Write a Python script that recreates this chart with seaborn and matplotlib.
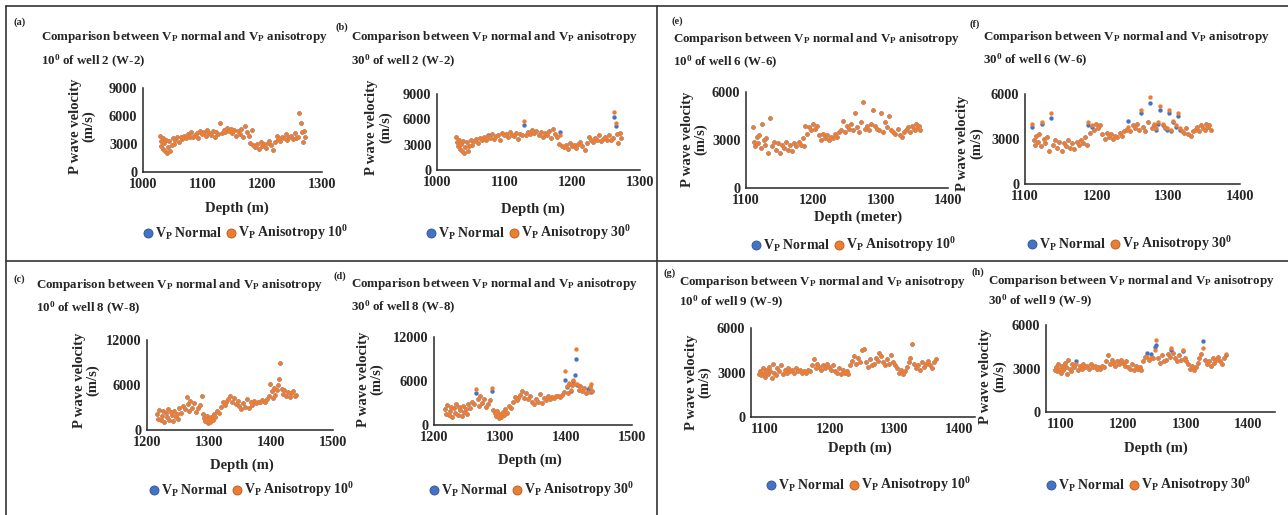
"""
Comparación de Vp normal y Vp anisotrópico (10° y 30°) para los pozos W-2, W-8, W-6 y W-9.
Se guarda la figura como out.png
"""

import matplotlib
matplotlib.use("Agg")
import matplotlib.pyplot as plt
from matplotlib.lines import Line2D
import seaborn as sns

BLUE = "#4472C4"
ORANGE = "#ED7D31"
W, H = 1288, 515

# ---------------- datos ----------------
# Pozo 2
depth_w2 = [1028, 1030, 1031, 1033, 1034, 1036, 1037, 1039, 1040, 1042,
            1044, 1046, 1048, 1050, 1052, 1054, 1057, 1060, 1063, 1066,
            1069, 1072, 1075, 1078, 1081, 1084, 1087, 1090, 1093, 1096,
            1099, 1102, 1105, 1108, 1111, 1114, 1117, 1120, 1123, 1126,
            1129, 1132, 1135, 1138, 1141, 1144, 1147, 1150, 1153, 1156,
            1159, 1162, 1165, 1168, 1171, 1174, 1177, 1180, 1182, 1185,
            1188, 1191, 1194, 1197, 1200, 1203, 1206, 1209, 1212, 1215,
            1218, 1221, 1224, 1227, 1230, 1233, 1236, 1239, 1242, 1245,
            1248, 1251, 1254, 1257, 1260, 1262, 1264, 1266, 1268, 1270, 1272]
vp_normal_w2 = [3900, 3300, 2800, 3600, 2500, 3100, 2200, 3400, 2000, 2700,
                3300, 2300, 2900, 3600, 3000, 3400, 3700, 3200, 3800, 3500,
                3900, 3600, 4100, 3800, 4300, 3700, 4000, 4200, 3600, 4400,
                4100, 4300, 3900, 4500, 4200, 4000, 4400, 3700, 4300, 4100,
                5300, 4200, 4500, 4300, 4700, 4400, 4600, 4200, 4500, 3900,
                4400, 4100, 4600, 3800, 4900, 4300, 3900, 3100, 4500, 2900,
                2700, 3000, 2500, 3200, 2800, 3000, 2600, 3100, 3300, 2900,
                2400, 3200, 3900, 3500, 3300, 3800, 3600, 4100, 3400, 3700,
                3900, 3500, 4200, 3600, 3800, 6300, 5200, 4300, 3200, 4400, 3800]
vp_aniso10_w2 = [3900, 3300, 2800, 3600, 2500, 3100, 2200, 3400, 2000, 2700,
                 3300, 2300, 2900, 3600, 3000, 3400, 3700, 3200, 3800, 3500,
                 3900, 3600, 4100, 3800, 4300, 3700, 4000, 4200, 3600, 4400,
                 4100, 4300, 3900, 4500, 4200, 4000, 4400, 3700, 4300, 4100,
                 5300, 4200, 4500, 4300, 4700, 4400, 4600, 4200, 4500, 3900,
                 4400, 4100, 4600, 3800, 4900, 4300, 3900, 3100, 4500, 2900,
                 2700, 3000, 2500, 3200, 2800, 3000, 2600, 3100, 3300, 2900,
                 2400, 3200, 3900, 3500, 3300, 3800, 3600, 4100, 3400, 3700,
                 3900, 3500, 4200, 3600, 3800, 6300, 5200, 4300, 3200, 4400, 3800]
vp_aniso30_w2 = [3900, 3300, 2800, 3600, 2500, 3100, 2200, 3400, 2000, 2700,
                 3300, 2300, 2900, 3600, 3000, 3400, 3700, 3200, 3800, 3500,
                 3900, 3600, 4000, 3800, 4300, 3700, 4000, 4200, 3600, 4400,
                 4100, 4300, 3900, 4500, 4200, 4000, 4400, 3700, 4300, 4100,
                 5800, 4200, 4500, 4300, 4700, 4400, 4600, 4200, 4500, 3900,
                 4400, 4100, 4600, 3800, 4900, 4300, 3900, 3100, 4100, 2900,
                 2700, 3000, 2500, 3200, 2800, 3000, 2600, 3100, 3300, 2900,
                 2400, 3200, 3900, 3500, 3300, 3800, 3600, 4100, 3400, 3700,
                 3900, 3500, 4200, 3600, 3800, 6900, 5600, 4300, 3200, 4400, 3800]

# Pozo 8
depth_w8 = [1216, 1218, 1220, 1222, 1224, 1226, 1228, 1230, 1232, 1234,
            1236, 1238, 1240, 1242, 1244, 1246, 1248, 1250, 1252, 1255,
            1258, 1261, 1264, 1266, 1268, 1270, 1273, 1276, 1279, 1282,
            1285, 1288, 1290, 1292, 1294, 1296, 1298, 1300, 1302, 1304,
            1306, 1308, 1310, 1313, 1316, 1319, 1322, 1325, 1328, 1331,
            1334, 1337, 1340, 1343, 1346, 1349, 1352, 1355, 1358, 1361,
            1364, 1367, 1370, 1373, 1376, 1379, 1382, 1385, 1388, 1391,
            1394, 1397, 1399, 1401, 1403, 1405, 1407, 1409, 1411, 1413,
            1415, 1417, 1419, 1421, 1424, 1427, 1430, 1433, 1436, 1438, 1440]
vp_normal_w8 = [2200, 1500, 2700, 1300, 1900, 2500, 1100, 2300, 1700, 2800,
                1400, 2400, 2000, 1200, 2600, 1800, 2200, 1500, 2900, 2300,
                3200, 2800, 4400, 3500, 2600, 3900, 3000, 3600, 2400, 2900,
                3400, 4600, 2100, 1600, 1200, 1900, 1000, 1500, 1100, 1800,
                1300, 2200, 1700, 2600, 2300, 3100, 3800, 3400, 3700, 4100,
                4600, 3700, 4300, 3500, 3900, 3200, 2800, 3600, 3100, 4200,
                3000, 3700, 3400, 3900, 3600, 3800, 3700, 4000, 3900, 3800,
                4100, 4500, 6200, 5200, 4300, 5600, 4700, 5400, 6000, 6800,
                9000, 5500, 4800, 5300, 4600, 5100, 4400, 4900, 5200, 4500, 4700]
vp_aniso10_w8 = [2200, 1500, 2700, 1300, 1900, 2500, 1100, 2300, 1700, 2800,
                 1400, 2400, 2000, 1200, 2600, 1800, 2200, 1500, 2900, 2300,
                 3200, 2800, 4400, 3500, 2600, 3900, 3000, 3600, 2400, 2900,
                 3400, 4600, 2100, 1600, 1200, 1900, 1000, 1500, 1100, 1800,
                 1300, 2200, 1700, 2600, 2300, 3100, 3800, 3400, 3700, 4100,
                 4600, 3700, 4300, 3500, 3900, 3200, 2800, 3600, 3100, 4200,
                 3000, 3700, 3400, 3900, 3600, 3800, 3700, 4000, 3900, 3800,
                 4100, 4500, 6200, 5200, 4300, 5600, 4700, 5400, 6000, 6800,
                 9000, 5500, 4800, 5300, 4600, 5100, 4400, 4900, 5200, 4500, 4700]
vp_aniso30_w8 = [2200, 1500, 2700, 1300, 1900, 2500, 1100, 2300, 1700, 2800,
                 1400, 2400, 2000, 1200, 2600, 1800, 2200, 1500, 2900, 2300,
                 3200, 2800, 4900, 3500, 2600, 3900, 3000, 3600, 2400, 2900,
                 3400, 5000, 2100, 1600, 1200, 1900, 1000, 1500, 1100, 1800,
                 1300, 2200, 1700, 2600, 2300, 3100, 3800, 3400, 3700, 4100,
                 4600, 3700, 4300, 3500, 3900, 3200, 2800, 3600, 3100, 4200,
                 3000, 3700, 3400, 3900, 3600, 3800, 3700, 4000, 3900, 3800,
                 4100, 4500, 7400, 5300, 4400, 5700, 4800, 5500, 6200, 5600,
                 10300, 5600, 4800, 5300, 4600, 5100, 4400, 4500, 5200, 5600, 4700]

# Pozo 6
depth_w6 = [1110, 1112, 1114, 1116, 1118, 1120, 1122, 1124, 1126, 1128,
            1130, 1133, 1136, 1139, 1142, 1145, 1148, 1151, 1154, 1157,
            1160, 1163, 1166, 1169, 1172, 1175, 1178, 1181, 1184, 1186,
            1188, 1190, 1193, 1196, 1199, 1202, 1205, 1208, 1211, 1214,
            1217, 1220, 1223, 1226, 1229, 1232, 1235, 1238, 1241, 1244,
            1247, 1250, 1253, 1256, 1259, 1262, 1265, 1268, 1271, 1274,
            1277, 1280, 1283, 1286, 1289, 1292, 1295, 1298, 1301, 1304,
            1307, 1310, 1313, 1316, 1319, 1322, 1325, 1328, 1331, 1334,
            1337, 1340, 1343, 1346, 1349, 1351, 1353, 1355, 1357, 1359]
vp_normal_w6 = [3800, 2900, 2600, 3200, 2800, 3300, 2500, 4000, 3000, 2700,
                3100, 2200, 4400, 2600, 2900, 2400, 2800, 2200, 2700, 2500,
                2900, 2400, 2700, 2300, 2800, 2600, 2900, 2700, 3100, 2600,
                3900, 3400, 3800, 3600, 4000, 3700, 3900, 3300, 3000, 3400,
                3100, 3300, 3000, 3200, 3100, 3400, 3200, 3500, 3600, 4200,
                3500, 3900, 3700, 4000, 3600, 4700, 3800, 3500, 4100, 5400,
                3700, 3900, 3600, 4000, 4900, 3900, 3700, 3600, 4700, 3500,
                4100, 3800, 4500, 3600, 3500, 3400, 3700, 3300, 3200, 3500,
                3600, 3800, 3500, 3900, 3700, 3600, 4000, 3800, 3900, 3600]
vp_aniso10_w6 = [3800, 2900, 2600, 3200, 2800, 3300, 2500, 4000, 3000, 2700,
                 3100, 2200, 4400, 2600, 2900, 2400, 2800, 2200, 2700, 2500,
                 2900, 2400, 2700, 2300, 2800, 2600, 2900, 2700, 3100, 2600,
                 3900, 3400, 3800, 3600, 4000, 3700, 3900, 3300, 3000, 3400,
                 3100, 3300, 3000, 3200, 3100, 3400, 3200, 3500, 3600, 4200,
                 3500, 3900, 3700, 4000, 3600, 4700, 3800, 3500, 4100, 5400,
                 3700, 3900, 3600, 4000, 4900, 3900, 3700, 3600, 4700, 3500,
                 4100, 3800, 4500, 3600, 3500, 3400, 3700, 3300, 3200, 3500,
                 3600, 3800, 3500, 3900, 3700, 3600, 4000, 3800, 3900, 3600]
vp_aniso30_w6 = [4000, 2900, 2600, 3200, 2800, 3300, 2500, 4100, 3000, 2700,
                 3100, 2200, 4700, 2600, 2900, 2400, 2800, 2200, 2700, 2500,
                 2900, 2400, 2700, 2300, 2800, 2600, 2900, 2700, 3100, 2600,
                 4100, 3400, 3900, 3600, 4000, 3700, 3900, 3300, 3000, 3400,
                 3100, 3300, 3000, 3200, 3100, 3400, 3200, 3500, 3600, 3800,
                 3500, 3900, 3700, 4000, 3600, 4900, 3800, 3500, 4100, 5800,
                 3700, 4000, 3700, 4100, 5200, 4000, 3800, 3700, 4900, 3600,
                 4200, 3900, 4700, 3700, 3500, 3400, 3700, 3300, 3200, 3500,
                 3600, 3800, 3500, 3900, 3700, 3600, 4000, 3800, 3900, 3600]

# Pozo 9
depth_w9 = [1090, 1092, 1094, 1096, 1098, 1100, 1102, 1104, 1106, 1108,
            1110, 1112, 1114, 1116, 1118, 1121, 1124, 1127, 1130, 1133,
            1136, 1139, 1142, 1145, 1148, 1151, 1154, 1157, 1160, 1163,
            1166, 1169, 1172, 1175, 1178, 1181, 1184, 1187, 1190, 1193,
            1196, 1199, 1202, 1205, 1208, 1211, 1214, 1217, 1220, 1223,
            1226, 1229, 1232, 1235, 1238, 1241, 1244, 1247, 1250, 1253,
            1256, 1259, 1262, 1265, 1268, 1271, 1274, 1277, 1280, 1283,
            1286, 1289, 1292, 1295, 1298, 1301, 1304, 1307, 1310, 1313,
            1316, 1319, 1322, 1325, 1328, 1331, 1334, 1337, 1340, 1343,
            1346, 1349, 1352, 1355, 1358, 1361, 1364]
vp_normal_w9 = [2900, 3100, 2800, 3300, 3000, 2700, 3200, 2900, 3400, 3100,
                2600, 3600, 3000, 2800, 3300, 3100, 3500, 2900, 3200, 3000,
                3300, 3100, 3200, 3000, 3300, 3100, 3200, 3000, 3100, 3000,
                3200, 3100, 3500, 3900, 3300, 3600, 3400, 3200, 3500, 3300,
                3600, 3400, 3200, 3500, 3100, 3000, 3300, 2900, 3200, 3000,
                3100, 2900, 3500, 3800, 4100, 3600, 4000, 3700, 4500, 4600,
                3700, 3400, 3900, 3500, 3600, 4000, 3800, 4300, 4100, 3700,
                3500, 3900, 3600, 4200, 3700, 3500, 3300, 3000, 3200, 2900,
                3100, 3400, 3700, 4000, 4900, 3600, 3300, 3500, 3200, 3700,
                3400, 3600, 3800, 3500, 3300, 3700, 3900]
vp_aniso10_w9 = [2900, 3100, 2800, 3300, 3000, 2700, 3200, 2900, 3400, 3100,
                 2600, 3600, 3000, 2800, 3300, 3100, 3500, 2900, 3200, 3000,
                 3300, 3100, 3200, 3000, 3300, 3100, 3200, 3000, 3100, 3000,
                 3200, 3100, 3500, 3900, 3300, 3600, 3400, 3200, 3500, 3300,
                 3600, 3400, 3200, 3500, 3100, 3000, 3300, 2900, 3200, 3000,
                 3100, 2900, 3500, 3800, 4100, 3600, 4000, 3700, 4500, 4600,
                 3700, 3400, 3900, 3500, 3600, 4000, 3800, 4300, 4100, 3700,
                 3500, 3900, 3600, 4200, 3700, 3500, 3300, 3000, 3200, 2900,
                 3100, 3400, 3700, 4000, 4900, 3600, 3300, 3500, 3200, 3700,
                 3400, 3600, 3800, 3500, 3300, 3700, 3900]
vp_aniso30_w9 = [2900, 3100, 2800, 3300, 3000, 2700, 3200, 2900, 3400, 3100,
                 2600, 3600, 3000, 2800, 3300, 3100, 3300, 2900, 3200, 3000,
                 3300, 3100, 3200, 3000, 3300, 3100, 3200, 3000, 3100, 3000,
                 3200, 3100, 3500, 3900, 3300, 3600, 3400, 3200, 3500, 3300,
                 3600, 3400, 3200, 3500, 3100, 3000, 3300, 2900, 3200, 3000,
                 3100, 2900, 3500, 3800, 3800, 3600, 3700, 3700, 4300, 5000,
                 3700, 3400, 3900, 3500, 3600, 4000, 3800, 4400, 4100, 3700,
                 3500, 3900, 3600, 4300, 3700, 3500, 3300, 3000, 3200, 2900,
                 3100, 3400, 3700, 4000, 4400, 3600, 3300, 3500, 3200, 3700,
                 3400, 3600, 3800, 3500, 3300, 3700, 4000]

# ---------------- estilo ----------------
sns.set_style("white")
plt.rcParams["font.family"] = ["Liberation Serif", "DejaVu Serif"]
plt.rcParams["font.weight"] = "bold"
plt.rcParams["mathtext.fontset"] = "custom"
plt.rcParams["mathtext.rm"] = "Liberation Serif:bold"
plt.rcParams["mathtext.bf"] = "Liberation Serif:bold"
plt.rcParams["mathtext.it"] = "Liberation Serif:bold:italic"

VP = r"V$_\mathrm{P}$"


def fx(x):
    return x / W


def fy(y):
    return 1 - y / H


# letra, pozo, ángulo, datos, caja en px (x0, x1, ytop, ybot), límites, posiciones de texto
PANELS = [
    dict(tag="a", well="2", ang="10", d=depth_w2, n=vp_normal_w2, a=vp_aniso10_w2,
         box=(143, 322, 88, 172), xlim=(1000, 1300), xt=[1000, 1100, 1200, 1300],
         ylim=(0, 9000), yt=[0, 3000, 6000, 9000],
         tagpos=(13, 22), title=(41, 37, 61), ylab=(82, 126),
         xlab=("Depth (m)", 237, 208), leg=(144, 233)),
    dict(tag="b", well="2", ang="30", d=depth_w2, n=vp_normal_w2, a=vp_aniso30_w2,
         box=(437, 640, 94, 170), xlim=(1000, 1300), xt=[1000, 1100, 1200, 1300],
         ylim=(0, 9000), yt=[0, 3000, 6000, 9000],
         tagpos=(335, 27), title=(351, 37, 61), ylab=(379, 127),
         xlab=("Depth (m)", 533, 209), leg=(427, 233)),
    dict(tag="c", well="8", ang="10", d=depth_w8, n=vp_normal_w8, a=vp_aniso10_w8,
         box=(147, 333, 340, 430), xlim=(1200, 1500), xt=[1200, 1300, 1400, 1500],
         ylim=(0, 12000), yt=[0, 6000, 12000],
         tagpos=(14, 279), title=(36, 285, 308), ylab=(86, 380),
         xlab=("Depth (m)", 242, 465), leg=(150, 490)),
    dict(tag="d", well="8", ang="30", d=depth_w8, n=vp_normal_w8, a=vp_aniso30_w8,
         box=(434, 632, 337, 425), xlim=(1200, 1500), xt=[1200, 1300, 1400, 1500],
         ylim=(0, 12000), yt=[0, 6000, 12000],
         tagpos=(334, 276), title=(351, 284, 307), ylab=(370, 379),
         xlab=("Depth (m)", 530, 460), leg=(430, 490)),
    dict(tag="e", well="6", ang="10", d=depth_w6, n=vp_normal_w6, a=vp_aniso10_w6,
         box=(746, 948, 92, 188), xlim=(1100, 1400), xt=[1100, 1200, 1300, 1400],
         ylim=(0, 6000), yt=[0, 3000, 6000],
         tagpos=(672, 21), title=(673, 39, 62), ylab=(694, 139),
         xlab=("Depth (meter)", 858, 217), leg=(752, 245)),
    dict(tag="f", well="6", ang="30", d=depth_w6, n=vp_normal_w6, a=vp_aniso30_w6,
         box=(1025, 1240, 94, 184), xlim=(1100, 1400), xt=[1100, 1200, 1300, 1400],
         ylim=(0, 6000), yt=[0, 3000, 6000],
         tagpos=(969, 24), title=(983, 37, 60), ylab=(970, 143),
         xlab=None, leg=(1028, 244)),
    dict(tag="g", well="9", ang="10", d=depth_w9, n=vp_normal_w9, a=vp_aniso10_w9,
         box=(751, 975, 328, 417), xlim=(1078, 1425), xt=[1100, 1200, 1300, 1400],
         ylim=(0, 6000), yt=[0, 3000, 6000],
         tagpos=(663, 273), title=(679, 282, 302), ylab=(698, 382),
         xlab=("Depth (m)", 860, 448), leg=(767, 485)),
    dict(tag="h", well="9", ang="30", d=depth_w9, n=vp_normal_w9, a=vp_aniso30_w9,
         box=(1046, 1275, 325, 412), xlim=(1076, 1443), xt=[1100, 1200, 1300, 1400],
         ylim=(0, 6000), yt=[0, 3000, 6000],
         tagpos=(972, 272), title=(988, 281, 301), ylab=(993, 376),
         xlab=("Depth (m)", 1156, 448), leg=(1047, 485)),
]


def draw_panel(fig, p):
    x0, x1, yt, yb = p["box"]
    ax = fig.add_axes([fx(x0), fy(yb), (x1 - x0) / W, (yb - yt) / H])
    sns.scatterplot(x=p["d"], y=p["n"], color=BLUE, s=10, linewidth=0, ax=ax, zorder=2)
    sns.scatterplot(x=p["d"], y=p["a"], color=ORANGE, s=10, linewidth=0, ax=ax, zorder=3)
    ax.set_xlim(*p["xlim"])
    ax.set_ylim(*p["ylim"])
    ax.set_xticks(p["xt"])
    ax.set_yticks(p["yt"])
    ax.tick_params(length=0, labelsize=10.3, pad=4)
    for lab in ax.get_xticklabels() + ax.get_yticklabels():
        lab.set_fontweight("bold")
    sns.despine(ax=ax)
    for side in ("left", "bottom"):
        ax.spines[side].set_color("#262626")
        ax.spines[side].set_linewidth(1.1)
    ax.set_xlabel("")
    ax.set_ylabel("")

    fig.text(fx(p["tagpos"][0]), fy(p["tagpos"][1]), f"({p['tag']})",
             fontsize=7.5, ha="left", va="center")
    tx, ty1, ty2 = p["title"]
    fig.text(fx(tx), fy(ty1),
             f"Comparison between {VP} normal and {VP} anisotropy",
             fontsize=9.4, ha="left", va="center")
    fig.text(fx(tx), fy(ty2),
             p["ang"] + r"$^\mathrm{0}$" + f" of well {p['well']} (W-{p['well']})",
             fontsize=9.4, ha="left", va="center")
    fig.text(fx(p["ylab"][0]), fy(p["ylab"][1]), "P wave velocity\n(m/s)",
             rotation=90, fontsize=10.5, ha="center", va="center",
             multialignment="center", linespacing=1.05)
    if p["xlab"] is not None:
        txt, lx, ly = p["xlab"]
        fig.text(fx(lx), fy(ly), txt, fontsize=10.5, ha="center", va="center")

    handles = [
        Line2D([], [], marker="o", ls="", markersize=6.5, markerfacecolor=BLUE,
               markeredgecolor="#2F528F", markeredgewidth=0.6),
        Line2D([], [], marker="o", ls="", markersize=6.5, markerfacecolor=ORANGE,
               markeredgecolor="#AE5A21", markeredgewidth=0.6),
    ]
    labels = [f"{VP} Normal", f"{VP} Anisotropy {p['ang']}" + r"$^\mathrm{0}$"]
    fig.legend(handles, labels, loc="center left",
               bbox_to_anchor=(fx(p["leg"][0]), fy(p["leg"][1])),
               ncol=2, frameon=False, handlelength=0.6, handletextpad=0.2,
               columnspacing=0.3, borderpad=0, borderaxespad=0,
               prop={"size": 10, "weight": "bold"})
    return ax


def draw_frame(fig):
    kw = dict(color="#333333", linewidth=1.2, transform=fig.transFigure)
    fig.add_artist(Line2D([fx(6), fx(W)], [fy(6), fy(6)], **kw))
    fig.add_artist(Line2D([fx(6), fx(6)], [fy(6), fy(H)], **kw))
    fig.add_artist(Line2D([fx(657), fx(657)], [fy(6), fy(H)], **kw))
    fig.add_artist(Line2D([fx(6), fx(W)], [fy(261), fy(261)], **kw))


def main():
    fig = plt.figure(figsize=(W / 100, H / 100), dpi=100)
    fig.patch.set_facecolor("white")
    for p in PANELS:
        draw_panel(fig, p)
    draw_frame(fig)
    fig.savefig("out.png", dpi=100, facecolor="white")
    plt.close(fig)


if __name__ == "__main__":
    main()
